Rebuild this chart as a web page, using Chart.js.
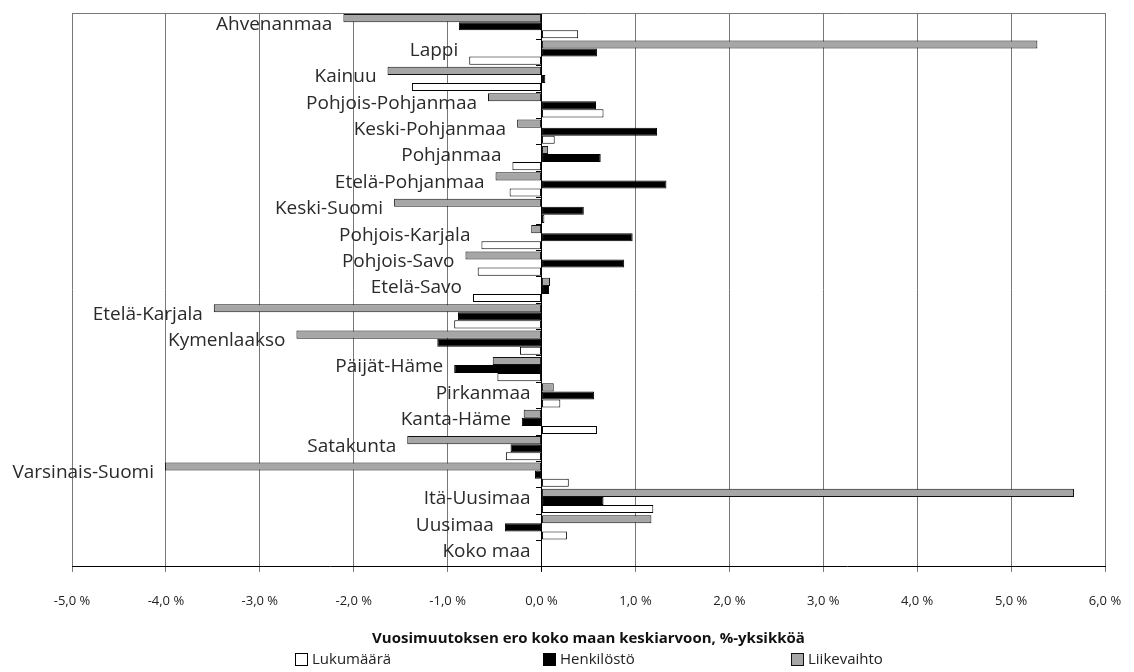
<!DOCTYPE html>
<html>
<head>
<meta charset="utf-8">
<script src="https://cdn.jsdelivr.net/npm/chart.js@4/dist/chart.umd.min.js"></script>
<style>
  html, body { margin: 0; padding: 0; background: #fff; }
  #c { display: block; }
</style>
</head>
<body>
<canvas id="c" width="1134" height="672"></canvas>
<script>
const categories = ["Ahvenanmaa","Lappi","Kainuu","Pohjois-Pohjanmaa","Keski-Pohjanmaa","Pohjanmaa","Etelä-Pohjanmaa","Keski-Suomi","Pohjois-Karjala","Pohjois-Savo","Etelä-Savo","Etelä-Karjala","Kymenlaakso","Päijät-Häme","Pirkanmaa","Kanta-Häme","Satakunta","Varsinais-Suomi","Itä-Uusimaa","Uusimaa","Koko maa"];
const liikevaihto = [-2.11, 5.28, -1.64, -0.57, -0.26, 0.07, -0.49, -1.57, -0.11, -0.81, 0.09, -3.49, -2.61, -0.52, 0.13, -0.19, -1.43, -4.01, 5.67, 1.17, 0];
const henkilosto = [-0.88, 0.59, 0.04, 0.58, 1.23, 0.63, 1.33, 0.45, 0.97, 0.88, 0.08, -0.89, -1.11, -0.93, 0.56, -0.21, -0.33, -0.07, 0.66, -0.39, 0];
const lukumaara = [0.39, -0.77, -1.38, 0.66, 0.14, -0.31, -0.34, 0.03, -0.64, -0.68, -0.73, -0.93, -0.23, -0.47, 0.20, 0.59, -0.38, 0.29, 1.19, 0.27, 0];
const seriesNames = ["Liikevaihto", "Henkilöstö", "Lukumäärä"];
const xTickValues = [-5, -4, -3, -2, -1, 0, 1, 2, 3, 4, 5, 6];
const axisTitle = "Vuosimuutoksen ero koko maan keskiarvoon, %-yksikköä";

const FONT = "'Open Sans', 'DejaVu Sans', sans-serif";

const frame = {
  id: 'frame',
  beforeDatasetsDraw(chart) {
    const a = chart.chartArea, ctx = chart.ctx;
    ctx.save();
    ctx.strokeStyle = '#777';
    ctx.lineWidth = 1;
    ctx.beginPath();
    ctx.moveTo(a.left, Math.round(a.top) + 0.5);
    ctx.lineTo(a.right, Math.round(a.top) + 0.5);
    ctx.stroke();
    ctx.restore();
  }
};

const catLabels = {
  id: 'catLabels',
  afterDatasetsDraw(chart) {
    const ctx = chart.ctx, xs = chart.scales.x, ys = chart.scales.y;
    ctx.save();
    ctx.font = "19px " + FONT;
    ctx.fillStyle = '#2a2a2a';
    ctx.textAlign = 'right';
    ctx.textBaseline = 'middle';
    categories.forEach((name, i) => {
      const m = Math.min(0, liikevaihto[i], henkilosto[i], lukumaara[i]);
      const x = xs.getPixelForValue(m) - 11;
      const y = ys.getPixelForValue(i) - 2;
      ctx.fillText(name, x, y);
    });
    ctx.restore();
  }
};

// Legend drawn manually (Excel-like evenly spaced entries), order reversed
const bottomLegend = {
  id: 'bottomLegend',
  afterDraw(chart) {
    const ctx = chart.ctx, a = chart.chartArea;
    const ds = chart.data.datasets.slice().reverse();
    const box = 13, gap = 4, pitch = 248;
    ctx.save();
    ctx.font = "15px " + FONT;
    const lastW = box + gap + ctx.measureText(ds[ds.length - 1].label).width;
    const total = pitch * (ds.length - 1) + lastW;
    let x = Math.round((a.left + a.right) / 2 - total / 2);
    const cy = 660;
    ds.forEach((d) => {
      ctx.fillStyle = d.backgroundColor;
      ctx.fillRect(x, cy - 7, box, box);
      ctx.strokeStyle = d.borderColor;
      ctx.lineWidth = 1;
      ctx.strokeRect(x + 0.5, cy - 6.5, box - 1, box - 1);
      ctx.fillStyle = '#222';
      ctx.textAlign = 'left';
      ctx.textBaseline = 'middle';
      ctx.fillText(d.label, x + box + gap, cy);
      x += pitch;
    });
    ctx.restore();
  }
};

new Chart(document.getElementById('c'), {
  type: 'bar',
  data: {
    labels: categories,
    datasets: [
      { label: seriesNames[0], data: liikevaihto, backgroundColor: '#a6a6a6', borderColor: '#111', borderWidth: 1, borderSkipped: false },
      { label: seriesNames[1], data: henkilosto, backgroundColor: '#000', borderColor: '#000', borderWidth: 1, borderSkipped: false },
      { label: seriesNames[2], data: lukumaara, backgroundColor: '#fff', borderColor: '#000', borderWidth: 1, borderSkipped: false }
    ]
  },
  options: {
    indexAxis: 'y',
    responsive: false,
    animation: false,
    devicePixelRatio: 1,
    categoryPercentage: 0.92,
    barPercentage: 1.0,
    layout: { padding: { left: 72, right: 29, top: 13, bottom: 27 } },
    scales: {
      x: {
        type: 'linear',
        min: -5, max: 6,
        afterBuildTicks(scale) { scale.ticks = xTickValues.map(v => ({ value: v })); },
        afterFit(scale) { scale.paddingLeft = 0; scale.paddingRight = 0; },
        ticks: {
          color: '#222',
          font: { family: FONT, size: 13 },
          padding: 22,
          maxRotation: 0,
          callback(v) { return v.toFixed(1).replace('.', ',') + ' %'; }
        },
        grid: {
          color: (c) => (c.tick && c.tick.value === 0) ? '#000' : '#777',
          lineWidth: 1,
          drawTicks: true,
          tickLength: 5
        },
        border: { display: true, color: '#000', width: 1 },
        title: {
          display: true,
          text: axisTitle,
          color: '#111',
          font: { family: FONT, size: 15, weight: 'bold', lineHeight: 0.9 },
          padding: { top: 0, bottom: 0 }
        }
      },
      y: {
        type: 'category',
        position: { x: 0 },
        ticks: { display: false },
        grid: { drawOnChartArea: false, drawTicks: true, tickLength: 5, offset: true, color: '#000' },
        border: { display: true, color: '#000', width: 1 }
      }
    },
    plugins: {
      legend: { display: false },
      tooltip: { enabled: false }
    }
  },
  plugins: [frame, catLabels, bottomLegend]
});
</script>
</body>
</html>
